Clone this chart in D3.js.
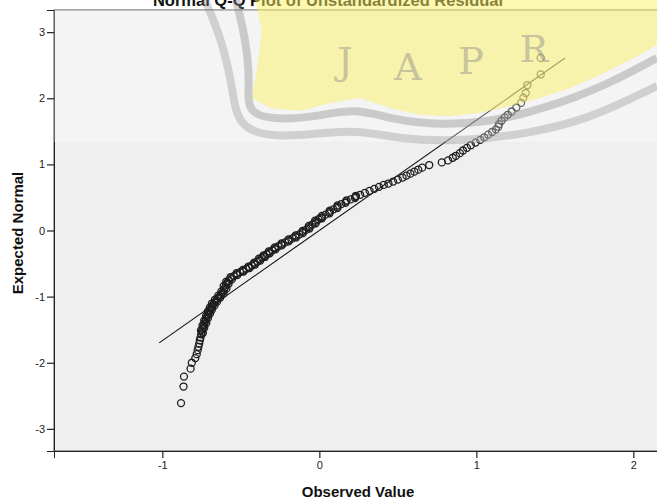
<!DOCTYPE html>
<html>
<head>
<meta charset="utf-8">
<script src="https://cdn.jsdelivr.net/npm/d3@7"></script>
<style>
  body { margin: 0; background: #fff; }
  svg { display: block; font-family: Arial, "Liberation Sans", sans-serif; }
</style>
</head>
<body>
<script>
// observed residuals (sorted) and their expected normal values
const observed = [-0.881, -0.865, -0.862, -0.820, -0.812, -0.790, -0.781, -0.775, -0.770, -0.765,
  -0.761, -0.757, -0.752, -0.748, -0.744, -0.738, -0.733, -0.728, -0.722, -0.716,
  -0.709, -0.703, -0.697, -0.690, -0.684, -0.676, -0.667, -0.658, -0.648, -0.637,
  -0.626, -0.617, -0.607, -0.600, -0.594, -0.586, -0.575, -0.562, -0.545, -0.525,
  -0.505, -0.485, -0.465, -0.448, -0.430, -0.412, -0.395, -0.380, -0.365, -0.350,
  -0.335, -0.320, -0.300, -0.282, -0.262, -0.240, -0.218, -0.195, -0.172, -0.150,
  -0.128, -0.105, -0.085, -0.065, -0.045, -0.025, -0.005, 0.015, 0.040, 0.065,
  0.090, 0.115, 0.140, 0.170, 0.200, 0.230, 0.260, 0.290, 0.320, 0.350,
  0.380, 0.410, 0.440, 0.470, 0.500, 0.530, 0.555, 0.580, 0.605, 0.630,
  0.655, 0.700, 0.780, 0.820, 0.850, 0.870, 0.895, 0.915, 0.940, 0.965,
  0.995, 1.025, 1.050, 1.075, 1.100, 1.125, 1.140, 1.145, 1.160, 1.180,
  1.200, 1.225, 1.255, 1.285, 1.300, 1.315, 1.325, 1.410, 1.410];
const expected = [-2.61, -2.36, -2.21, -2.09, -2.00, -1.93, -1.87, -1.81, -1.76, -1.71,
  -1.66, -1.62, -1.57, -1.53, -1.49, -1.45, -1.42, -1.38, -1.34, -1.31,
  -1.27, -1.24, -1.21, -1.18, -1.15, -1.12, -1.09, -1.06, -1.03, -1.00,
  -0.97, -0.94, -0.90, -0.86, -0.82, -0.79, -0.76, -0.72, -0.69, -0.66,
  -0.63, -0.61, -0.58, -0.56, -0.53, -0.50, -0.47, -0.44, -0.41, -0.39,
  -0.36, -0.33, -0.30, -0.27, -0.24, -0.21, -0.18, -0.15, -0.12, -0.09,
  -0.06, -0.02, 0.01, 0.05, 0.09, 0.13, 0.17, 0.20, 0.24, 0.28,
  0.32, 0.36, 0.40, 0.44, 0.47, 0.51, 0.54, 0.57, 0.60, 0.63,
  0.66, 0.69, 0.71, 0.74, 0.77, 0.80, 0.83, 0.86, 0.89, 0.92,
  0.95, 0.99, 1.03, 1.06, 1.10, 1.13, 1.17, 1.21, 1.25, 1.29,
  1.33, 1.37, 1.41, 1.45, 1.49, 1.53, 1.57, 1.61, 1.66, 1.71,
  1.75, 1.80, 1.86, 1.93, 2.01, 2.08, 2.20, 2.36, 2.61];

// the crowded middle of the band, where circles sit on top of each other
const observedMid = [-0.742, -0.754, -0.733, -0.744, -0.720, -0.733, -0.709, -0.721, -0.696, -0.710,
  -0.684, -0.697, -0.668, -0.684, -0.651, -0.665, -0.631, -0.644, -0.610, -0.624,
  -0.592, -0.609, -0.578, -0.593, -0.557, -0.566, -0.523, -0.527, -0.483, -0.487,
  -0.445, -0.451, -0.409, -0.416, -0.376, -0.385, -0.346, -0.355, -0.316, -0.322,
  -0.279, -0.284, -0.239, -0.241, -0.195, -0.196, -0.149, -0.151, -0.105, -0.107,
  -0.063, -0.067, -0.023, -0.027, 0.017, 0.016, 0.065, 0.066, 0.115, 0.116,
  0.167, 0.173, 0.227, 0.233];
const expectedMid = [-1.55, -1.51, -1.47, -1.435, -1.40, -1.36, -1.325, -1.29, -1.255, -1.225,
  -1.195, -1.165, -1.135, -1.105, -1.075, -1.045, -1.015, -0.985, -0.955, -0.92,
  -0.88, -0.84, -0.805, -0.775, -0.74, -0.705, -0.675, -0.645, -0.62, -0.595,
  -0.57, -0.545, -0.515, -0.485, -0.455, -0.425, -0.40, -0.375, -0.345, -0.315,
  -0.285, -0.255, -0.225, -0.195, -0.165, -0.135, -0.105, -0.075, -0.04, -0.005,
  0.03, 0.07, 0.11, 0.15, 0.185, 0.22, 0.26, 0.30, 0.34, 0.38,
  0.42, 0.455, 0.49, 0.525];

// reference line ends
const refLineX = [-1.02, 1.565];
const refLineY = [-1.70, 2.61];

const xTicks = [-1, 0, 1, 2];
const yTicks = [-3, -2, -1, 0, 1, 2, 3];

const titleText = "Normal Q-Q Plot of Unstandardized Residual";
const xTitle = "Observed Value";
const yTitle = "Expected Normal";
const stampLetters = ["J", "A", "P", "R"];

const width = 657, height = 501;
const plotLeft = 54, plotTop = 10, plotBottom = 451;

const svg = d3.select("body").append("svg")
    .attr("width", width)
    .attr("height", height);

const x = d3.scaleLinear().domain([-1.69, 2.23]).range([plotLeft, plotLeft + 3.92 * 157]);
const y = d3.scaleLinear().domain([-3.335, 3.335]).range([plotBottom, plotTop]);

// plot background
svg.append("rect")
    .attr("x", plotLeft).attr("y", plotTop)
    .attr("width", x.range()[1] - plotLeft).attr("height", plotBottom - plotTop)
    .attr("fill", "#efefef")
    .attr("stroke", "#555")
    .attr("stroke-width", 1);

const fmt = d => String(d);

const yAxis = svg.append("g")
    .attr("transform", `translate(${plotLeft},0)`)
    .call(d3.axisLeft(y).tickValues(yTicks).tickSize(7).tickPadding(2).tickFormat(fmt));
const xAxis = svg.append("g")
    .attr("transform", `translate(0,${plotBottom})`)
    .call(d3.axisBottom(x).tickValues(xTicks).tickSize(7).tickPadding(3).tickFormat(fmt));

[yAxis, xAxis].forEach(g => {
    g.select(".domain").attr("stroke", "#222");
    g.selectAll(".tick line").attr("stroke", "#222").attr("stroke-width", 1.2);
    g.selectAll(".tick text").attr("fill", "#222").style("font-size", "11px")
        .style("font-family", "Arial, 'Liberation Sans', sans-serif");
});

// reference line
svg.append("line")
    .attr("x1", x(refLineX[0])).attr("y1", y(refLineY[0]))
    .attr("x2", x(refLineX[1])).attr("y2", y(refLineY[1]))
    .attr("stroke", "#111")
    .attr("stroke-width", 1.1);

const points = observed.map((o, i) => ({ o: o, e: expected[i] }))
    .concat(observedMid.map((o, i) => ({ o: o, e: expectedMid[i] })));

svg.append("g")
    .selectAll("circle")
    .data(points)
    .enter()
    .append("circle")
    .attr("cx", d => x(d.o))
    .attr("cy", d => y(d.e))
    .attr("r", 3.5)
    .attr("fill", "none")
    .attr("stroke", "#1e1e1e")
    .attr("stroke-width", 1.3);

// titles
svg.append("text")
    .attr("x", 328).attr("y", 6)
    .attr("text-anchor", "middle")
    .style("font-size", "16.5px").style("font-weight", "bold")
    .attr("fill", "#111")
    .text(titleText);

svg.append("text")
    .attr("x", 358).attr("y", 497)
    .attr("text-anchor", "middle")
    .style("font-size", "15px").style("font-weight", "bold")
    .attr("fill", "#111")
    .text(xTitle);

svg.append("text")
    .attr("transform", "translate(23,233) rotate(-90)")
    .attr("text-anchor", "middle")
    .style("font-size", "15px").style("font-weight", "bold")
    .attr("fill", "#111")
    .text(yTitle);

// faint university stamp laid over the top of the picture
const stamp = svg.append("g").attr("pointer-events", "none");

stamp.append("rect")
    .attr("x", plotLeft).attr("y", plotTop)
    .attr("width", width - plotLeft).attr("height", 132)
    .attr("fill", "#fff").attr("opacity", 0.3);

stamp.append("path")
    .attr("d", "M255,0 L262,30 L258,62 L252,98 L270,108 L300,111 L330,103 L360,98 L390,108 L420,115 L450,116 L480,113 L510,106 L540,98 L570,88 L600,75 L630,60 L657,45 L657,0 Z")
    .attr("fill", "rgb(250,240,100)")
    .attr("opacity", 0.5);

const band = d3.line().curve(d3.curveBasis);
stamp.append("path")
    .attr("d", band([[236, 0], [246, 40], [250, 84], [246, 114], [280, 120], [320, 116], [355, 108], [395, 120], [440, 125], [490, 122], [530, 112], [575, 98], [620, 78], [657, 58]]))
    .attr("fill", "none")
    .attr("stroke", "#8c8c8c")
    .attr("stroke-width", 8)
    .attr("opacity", 0.4);
stamp.append("path")
    .attr("d", band([[205, 0], [222, 40], [233, 90], [238, 132], [290, 138], [355, 128], [400, 140], [470, 141], [530, 133], [580, 121], [620, 104], [657, 86]]))
    .attr("fill", "none")
    .attr("stroke", "#8c8c8c")
    .attr("stroke-width", 8)
    .attr("opacity", 0.35);

stamp.selectAll(".letter")
    .data(stampLetters)
    .enter()
    .append("text")
    .attr("x", (d, i) => 345 + i * 63)
    .attr("y", (d, i) => [74, 80, 74, 62][i])
    .attr("text-anchor", "middle")
    .style("font-family", "'DejaVu Serif', serif")
    .style("font-size", "38px")
    .attr("fill", "#8c8c8c")
    .attr("opacity", 0.45)
    .text(d => d);
</script>
</body>
</html>
